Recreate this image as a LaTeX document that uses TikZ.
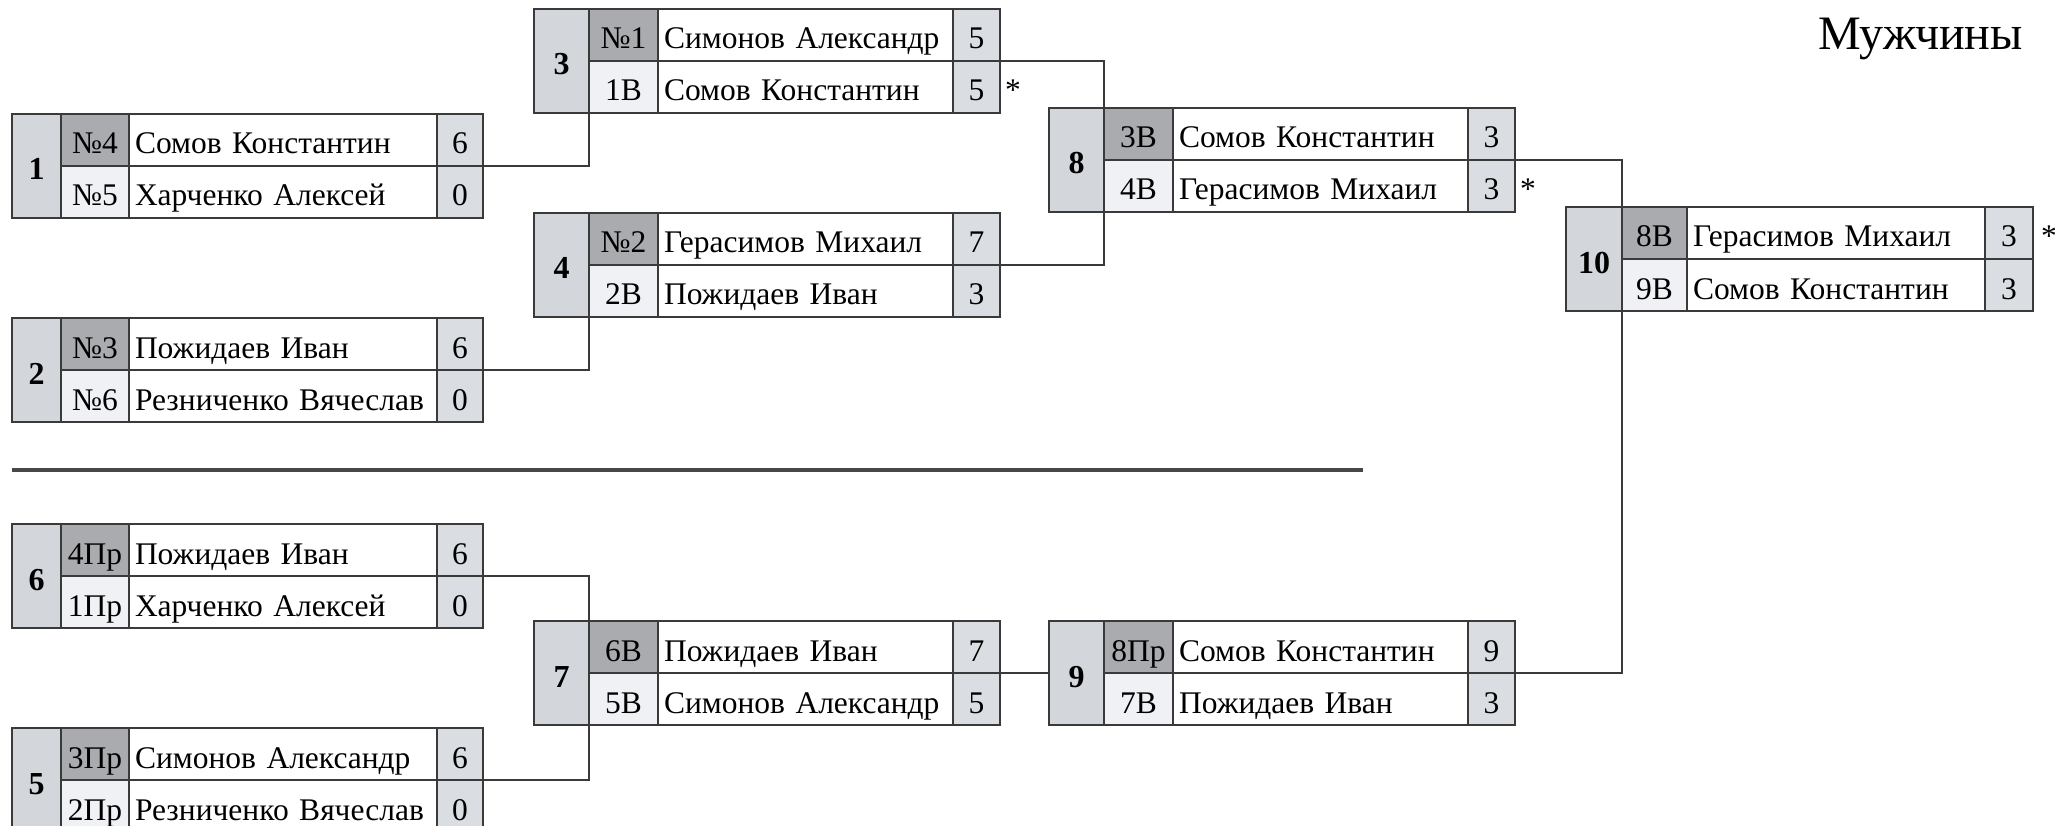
\documentclass[tikz,border=0pt]{standalone}
\usepackage{fontspec}
\setmainfont{Liberation Serif}
\definecolor{linec}{HTML}{3A3A3A}
\definecolor{numfill}{HTML}{D3D7DC}
\definecolor{seeddark}{HTML}{A9ABAE}
\definecolor{seedlight}{HTML}{EFF1F4}
\definecolor{scorefill}{HTML}{DADDE2}
\tikzset{
  cell/.style={draw=linec, line width=1.3pt, anchor=north west, inner sep=0pt, outer sep=0pt,
    minimum height=52pt, text height=28pt, text depth=0pt, font=\fontsize{31.5}{31.5}\selectfont},
  numc/.style={cell, fill=numfill, minimum height=104pt, font=\fontsize{32}{32}\selectfont\bfseries},
  seedA/.style={cell, fill=seeddark},
  seedB/.style={cell, fill=seedlight},
  namec/.style={cell, fill=white, align=left, inner xsep=6pt},
  scorec/.style={cell, fill=scorefill},
  conn/.style={draw=linec, line width=1.3pt},
  starmark/.style={anchor=west, inner sep=0pt, text height=28pt, text depth=0pt, font=\fontsize{31.5}{31.5}\selectfont},
}
\newcommand\setcol[4]{\def\numw{#1}\def\seedw{#2}\def\namew{#3}\def\scorew{#4}%
  \pgfmathsetmacro\namet{#3-12}}
\newcommand\tbox[9]{%
  \begin{scope}[shift={#2}]
    \node[numc, minimum width=\numw pt] (#1num) at (0,0) {#3};
    \node[seedA, minimum width=\seedw pt] (#1s1) at (\numw,0) {#4};
    \node[namec, text width=\namet pt] (#1n1) at (\numw+\seedw,0) {#5};
    \node[scorec, minimum width=\scorew pt] (#1sc1) at (\numw+\seedw+\namew,0) {#6};
    \node[seedB, minimum width=\seedw pt] (#1s2) at (\numw,52) {#7};
    \node[namec, text width=\namet pt] (#1n2) at (\numw+\seedw,52) {#8};
    \node[scorec, minimum width=\scorew pt] (#1sc2) at (\numw+\seedw+\namew,52) {#9};
  \end{scope}}
\begin{document}
\begin{tikzpicture}[x=1pt, y=-1pt]
  \useasboundingbox (0,0) rectangle (2055,826);
  \clip (0,0) rectangle (2055,826);
  \fill[white] (0,0) rectangle (2055,826);

  % left column
  \setcol{49}{68}{308}{46}
  \tbox{b1}{(12,114)}{1}{№4}{Сомов Константин}{6}{№5}{Харченко Алексей}{0}
  \tbox{b2}{(12,318)}{2}{№3}{Пожидаев Иван}{6}{№6}{Резниченко Вячеслав}{0}
  \tbox{b6}{(12,524)}{6}{4Пр}{Пожидаев Иван}{6}{1Пр}{Харченко Алексей}{0}
  \tbox{b5}{(12,728)}{5}{3Пр}{Симонов Александр}{6}{2Пр}{Резниченко Вячеслав}{0}

  % second column
  \setcol{55}{69}{295}{47}
  \tbox{b3}{(534,9)}{3}{№1}{Симонов Александр}{5}{1В}{Сомов Константин}{5}
  \tbox{b4}{(534,213)}{4}{№2}{Герасимов Михаил}{7}{2В}{Пожидаев Иван}{3}
  \tbox{b7}{(534,621)}{7}{6В}{Пожидаев Иван}{7}{5В}{Симонов Александр}{5}

  % third column
  \tbox{b8}{(1049,108)}{8}{3В}{Сомов Константин}{3}{4В}{Герасимов Михаил}{3}
  \tbox{b9}{(1049,621)}{9}{8Пр}{Сомов Константин}{9}{7В}{Пожидаев Иван}{3}

  % final
  \setcol{56}{65}{298}{48}
  \tbox{b10}{(1566,207)}{10}{8В}{Герасимов Михаил}{3}{9В}{Сомов Константин}{3}

  % stars
  \node[starmark] (st3) at ([xshift=5pt]b3sc2.east) {*};
  \node[starmark] (st8) at ([xshift=5pt]b8sc2.east) {*};
  \node[starmark] (st10) at ([xshift=8pt]b10sc1.east) {*};

  % connectors
  \draw[conn] (b1sc1.south east) -| (b3s2.south west);
  \draw[conn] (b2sc1.south east) -| (b4s2.south west);
  \draw[conn] (b3sc1.south east) -| (b8s1.north west);
  \draw[conn] (b4sc1.south east) -| (b8s2.south west);
  \draw[conn] (b8sc1.south east) -| (b10s1.north west);
  \draw[conn] (b9sc1.south east) -| (b10s2.south west);
  \draw[conn] (b6sc1.south east) -| (b7s1.north west);
  \draw[conn] (b5sc1.south east) -| (b7s2.south west);
  \draw[conn] (b7sc1.south east) -- (b9num.west);

  % separator
  \draw[draw=black!72, line width=3.5pt] (12,470) -- (1363,470);

  % title
  \node[anchor=base east, inner sep=0pt, font=\fontsize{48}{48}\selectfont] (title) at (2023,50) {Мужчины};
\end{tikzpicture}
\end{document}
